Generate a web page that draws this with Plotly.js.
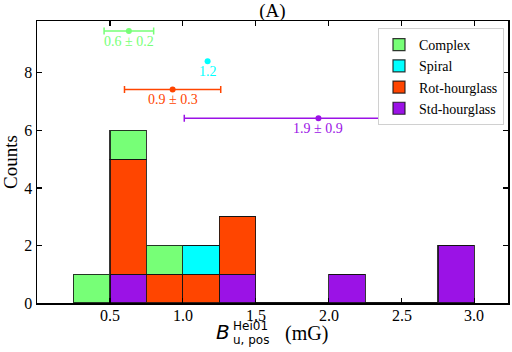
<!DOCTYPE html>
<html>
<head>
<meta charset="utf-8">
<script src="https://cdn.plot.ly/plotly-3.0.1.min.js"></script>
<style>
  body { margin: 0; background: #fff; }
  #plot { width: 512px; height: 352px; }
</style>
</head>
<body>
<div id="plot"></div>
<script>
// histogram bins (width 0.25 mG), counts per morphology
var binCenters = [0.375, 0.625, 0.875, 1.125, 1.375, 1.625, 1.875, 2.125, 2.375, 2.625, 2.875];
var stdCounts = [0, 1, 0, 0, 1, 0, 0, 1, 0, 0, 2];
var rotCounts = [0, 4, 1, 1, 2, 0, 0, 0, 0, 0, 0];
var spiralCounts = [0, 0, 0, 1, 0, 0, 0, 0, 0, 0, 0];
var complexCounts = [1, 1, 1, 0, 0, 0, 0, 0, 0, 0, 0];

var xTickVals = [0.5, 1.0, 1.5, 2.0, 2.5, 3.0];
var xTickText = ['0.5', '1.0', '1.5', '2.0', '2.5', '3.0'];
var yTickVals = [0, 2, 4, 6, 8];

// mean +/- std markers above the histogram
var statNames = ['Complex', 'Spiral', 'Rot-hourglass', 'Std-hourglass'];
var statMean = [0.63, 1.17, 0.93, 1.93];
var statErr = [0.17, 0, 0.33, 0.92];
var statY = [9.45, 8.4, 7.42, 6.42];
var statLabels = ['0.6 \u00b1 0.2', '1.2', '0.9 \u00b1 0.3', '1.9 \u00b1 0.9'];

var colors = {
    'Complex': '#77ff77',
    'Spiral': '#00ffff',
    'Rot-hourglass': '#ff4500',
    'Std-hourglass': '#9b12e6'
};

var serif = 'Liberation Serif, Times New Roman, serif';
var sans = 'DejaVu Sans, sans-serif';

function barTrace(name, counts) {
    return {
        type: 'bar',
        name: name,
        x: binCenters,
        y: counts,
        width: 0.25,
        marker: {
            color: colors[name],
            line: { color: 'rgba(20,20,20,0.85)', width: 1.2 }
        }
    };
}

var data = [
    barTrace('Std-hourglass', stdCounts),
    barTrace('Rot-hourglass', rotCounts),
    barTrace('Spiral', spiralCounts),
    barTrace('Complex', complexCounts)
];

var annotations = [];
for (let i = 0; i < statNames.length; i++) {
    var c = colors[statNames[i]];
    data.push({
        type: 'scatter',
        mode: 'markers',
        x: [statMean[i]],
        y: [statY[i]],
        showlegend: false,
        marker: { color: c, size: 6 },
        error_x: statErr[i] > 0 ? {
            type: 'constant', value: statErr[i], color: c, thickness: 1.5, width: 3.5
        } : { visible: false }
    });
    annotations.push({
        x: statMean[i], y: statY[i], xref: 'x', yref: 'y',
        text: statLabels[i], showarrow: false, yshift: -10,
        font: { family: serif, size: 14, color: c }
    });
}

function px(x) { return (x - 37) / 471; }
function py(y) { return (303 - y) / 282; }
function label(x, y, text, family, size, xanchor) {
    return {
        xref: 'paper', yref: 'paper', x: px(x), y: py(y), text: text,
        xanchor: xanchor, yanchor: 'middle', showarrow: false,
        font: { family: family, size: size, color: '#000' }
    };
}

// x tick labels sit closer to the axis than plotly allows, so place them by hand
for (let i = 0; i < xTickVals.length; i++) {
    annotations.push({
        x: xTickVals[i], xref: 'x', y: py(315), yref: 'paper',
        text: xTickText[i], xanchor: 'center', yanchor: 'middle', showarrow: false,
        font: { family: serif, size: 16, color: '#000' }
    });
}

// x label: B with stacked super/subscript, then unit
annotations.push(
    label(214, 332, '<i>B</i>', sans, 20, 'left'),
    label(231, 326, 'Hei01', sans, 12, 'left'),
    label(231, 340, 'u, pos', sans, 12, 'left'),
    label(283, 333, '(mG)', serif, 20, 'left')
);

var axisCommon = {
    showgrid: false, zeroline: false,
    showline: true, linecolor: '#000', linewidth: 1.5,
    mirror: 'ticks', ticks: 'inside', ticklen: 5, tickwidth: 1.2, tickcolor: '#000',
    tickfont: { family: serif, size: 16, color: '#000' }
};

var layout = {
    width: 512, height: 352,
    margin: { l: 37, r: 4, t: 21, b: 49 },
    paper_bgcolor: '#fff', plot_bgcolor: '#fff',
    barmode: 'stack',
    bargap: 0,
    title: {
        text: '(A)', x: 0.532, xanchor: 'center', y: 0.972, yanchor: 'middle',
        font: { family: serif, size: 19, color: '#000' }
    },
    xaxis: Object.assign({}, axisCommon, {
        range: [0, 3.23],
        tickvals: xTickVals,
        showticklabels: false
    }),
    yaxis: Object.assign({}, axisCommon, {
        range: [0, 9.8],
        tickvals: yTickVals,
        title: { text: 'Counts', standoff: 4, font: { family: serif, size: 19, color: '#000' } }
    }),
    legend: {
        x: 0.9915, xanchor: 'right', y: 0.975, yanchor: 'top',
        traceorder: 'reversed',
        bgcolor: '#fff', bordercolor: '#d0d0d0', borderwidth: 1,
        font: { family: serif, size: 14, color: '#000' }
    },
    annotations: annotations
};

Plotly.newPlot('plot', data, layout, { displayModeBar: false, staticPlot: true });
</script>
</body>
</html>
